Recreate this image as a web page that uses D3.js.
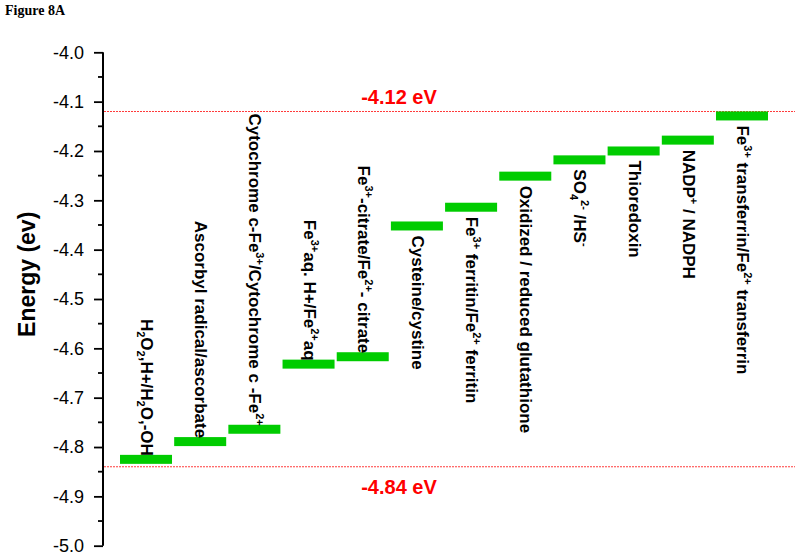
<html><head>
<meta charset="UTF-8">
<title>Figure 8A</title>
<script src="https://cdn.jsdelivr.net/npm/d3@7"></script>
<style>
    body { margin: 0; padding: 0; background: #fff; }
    svg text { font-family: "Liberation Sans", Arial, sans-serif; }
    .title { font-family: "Liberation Serif", "Times New Roman", serif; font-weight: bold; font-size: 14px; }
</style>
</head>
<body>
<div id="chart"></div>
<script>
// couples, energy values (eV) and their labels (segments: text, sub/sup)
var couples = ["H2O2", "ascorbate", "cytc", "feaq", "fecitrate", "cysteine",
               "ferritin", "glutathione", "so4", "thioredoxin", "nadp", "transferrin"];
var energies = [-4.825, -4.789, -4.764, -4.632, -4.617, -4.352,
                -4.314, -4.251, -4.218, -4.200, -4.178, -4.129];
var labels = [
    [["H"], ["2", "sub"], ["O"], ["2", "sub"], [",H+/H"], ["2", "sub"], ["O,-OH"]],
    [["Ascorbyl radical/ascorbate"]],
    [["Cytochrome c-Fe"], ["3+", "sup"], ["/Cytochrome c -Fe"], ["2+", "sup"]],
    [["Fe"], ["3+", "sup"], ["aq. H+/Fe"], ["2+", "sup"], ["aq"]],
    [["Fe"], ["3+", "sup"], ["-citrate/Fe"], ["2+", "sup"], ["- citrate"]],
    [["Cysteine/cystine"]],
    [["Fe"], ["3+", "sup"], [" ferritin/Fe"], ["2+", "sup"], [" ferritin"]],
    [["Oxidized / reduced glutathione"]],
    [["SO"], ["4", "sub"], ["2-", "sup"], [" /HS"], ["-", "sup"]],
    [["Thioredoxin"]],
    [["NADP"], ["+", "sup"], [" / NADPH"]],
    [["Fe"], ["3+", "sup"], [" transferrin/Fe"], ["2+", "sup"], [" transferrin"]]
];
var limits = [-4.12, -4.84];
var tickValues = [-5.0, -4.9, -4.8, -4.7, -4.6, -4.5, -4.4, -4.3, -4.2, -4.1, -4.0];
var tickLabels = ["-5.0", "-4.9", "-4.8", "-4.7", "-4.6", "-4.5", "-4.4", "-4.3", "-4.2", "-4.1", "-4.0"];
var minorTicks = [-4.95, -4.85, -4.75, -4.65, -4.55, -4.45, -4.35, -4.25, -4.15, -4.05];

var width = 800, height = 557;
var axisX = 103;

var svg = d3.select("#chart").append("svg")
    .attr("width", width)
    .attr("height", height);

var y = d3.scaleLinear().domain([-5, -4]).range([545.7, 52.3]);
var x = d3.scaleBand().domain(couples).range([120, 768]).paddingInner(0.04);

svg.append("text").attr("class", "title")
    .attr("x", 5).attr("y", 15)
    .text("Figure 8A");

// y axis
var axis = svg.append("g")
    .attr("transform", "translate(" + axisX + ",0)")
    .call(d3.axisLeft(y)
        .tickValues(tickValues)
        .tickFormat(function(d, i) { return tickLabels[i]; })
        .tickSize(9)
        .tickPadding(10));
axis.select(".domain").attr("stroke-width", 2).attr("d", "M0," + y(-5) + "V" + y(-4));
axis.selectAll(".tick line").attr("stroke-width", 1.8);
axis.selectAll(".tick text")
    .attr("font-size", 18)
    .attr("font-family", "'Liberation Sans', Arial, sans-serif")
    .attr("fill", "#000");

axis.selectAll(".minor").data(minorTicks).enter().append("line")
    .attr("class", "minor")
    .attr("x1", -5).attr("x2", 0)
    .attr("y1", function(d) { return y(d); })
    .attr("y2", function(d) { return y(d); })
    .attr("stroke", "#000").attr("stroke-width", 1.8);

svg.append("text")
    .attr("transform", "translate(35," + y(-4.45) + ") rotate(-90)")
    .attr("text-anchor", "middle")
    .attr("font-size", 23).attr("font-weight", "bold")
    .text("Energy (ev)");

// limit lines
svg.selectAll(".limit").data(limits).enter().append("line")
    .attr("class", "limit")
    .attr("x1", axisX + 1).attr("x2", 795)
    .attr("y1", function(d) { return y(d); })
    .attr("y2", function(d) { return y(d); })
    .attr("stroke", "#ff3b3b").attr("stroke-width", 1)
    .attr("stroke-dasharray", "2,1");

svg.selectAll(".limit-label").data(limits).enter().append("text")
    .attr("class", "limit-label")
    .attr("x", 399)
    .attr("y", function(d, i) { return y(d) + (i === 0 ? -8 : 27); })
    .attr("text-anchor", "middle")
    .attr("font-size", 20).attr("font-weight", "bold")
    .attr("fill", "#ff0000")
    .text(function(d) { return d.toFixed(2) + " eV"; });

// energy levels
var barH = 9;
svg.selectAll(".level").data(couples).enter().append("rect")
    .attr("class", "level")
    .attr("x", function(d) { return x(d); })
    .attr("y", function(d, i) { return y(energies[i]) - barH / 2; })
    .attr("width", x.bandwidth())
    .attr("height", barH)
    .attr("fill", "#00cc00");

// rotated labels: first five sit above their level, the rest below
var fs = 17, small = 11;
couples.forEach(function(c, i) {
    var above = i < 5;
    var cx = x(c) + x.bandwidth() / 2;
    var ty = above ? y(energies[i]) - barH / 2 + 1 : y(energies[i]) + barH / 2 + 5;
    var t = svg.append("text")
        .attr("transform", "translate(" + (cx - 5) + "," + ty + ") rotate(90)")
        .attr("text-anchor", above ? "end" : "start")
        .attr("font-size", fs).attr("font-weight", "bold")
        .attr("fill", "#000");
    labels[i].forEach(function(seg) {
        var ts = t.append("tspan").text(seg[0]);
        if (seg[1]) {
            ts.attr("font-size", small)
              .attr("baseline-shift", seg[1] === "sub" ? "-4px" : "7px");
        }
    });
});
</script>
</body>
</html>
